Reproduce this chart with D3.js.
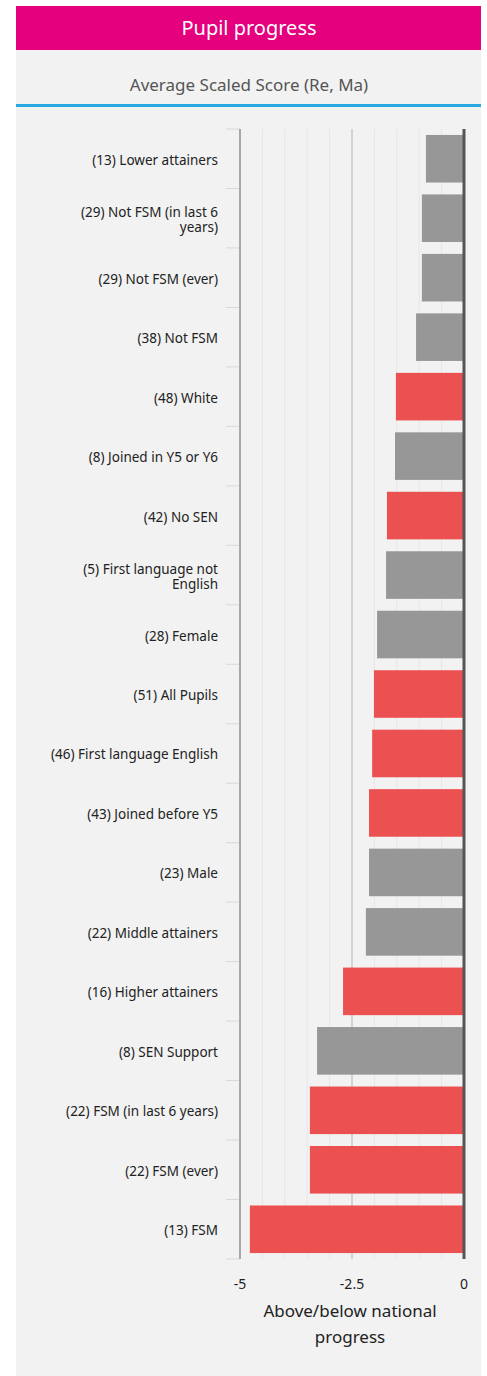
<!DOCTYPE html>
<html>
<head>
<meta charset="utf-8">
<script src="https://cdn.jsdelivr.net/npm/d3@7"></script>
<style>
  body { margin: 0; background: #fff; font-family: "Noto Sans", Lato, sans-serif; }
</style>
</head>
<body>
<script>
// categories top to bottom
var labels = [
  "(13) Lower attainers",
  "(29) Not FSM (in last 6 years)",
  "(29) Not FSM (ever)",
  "(38) Not FSM",
  "(48) White",
  "(8) Joined in Y5 or Y6",
  "(42) No SEN",
  "(5) First language not English",
  "(28) Female",
  "(51) All Pupils",
  "(46) First language English",
  "(43) Joined before Y5",
  "(23) Male",
  "(22) Middle attainers",
  "(16) Higher attainers",
  "(8) SEN Support",
  "(22) FSM (in last 6 years)",
  "(22) FSM (ever)",
  "(13) FSM"
];
var values = [-0.85, -0.94, -0.94, -1.07, -1.52, -1.54, -1.72, -1.74, -1.94, -2.01,
              -2.05, -2.12, -2.12, -2.19, -2.70, -3.28, -3.44, -3.44, -4.78];
// significant (red) or not (grey)
var flagged = [0, 0, 0, 0, 1, 0, 1, 0, 0, 1, 1, 1, 0, 0, 1, 0, 1, 1, 1];
// wrapped label lines
var wrapped = {
  "(29) Not FSM (in last 6 years)": ["(29) Not FSM (in last 6", "years)"],
  "(5) First language not English": ["(5) First language not", "English"]
};
var tickVals = [-5, -2.5, 0];

var W = 487, H = 1376;

var svg = d3.select("body").append("svg")
    .attr("width", W)
    .attr("height", H);

// panel
svg.append("rect").attr("x", 16).attr("y", 50).attr("width", 465).attr("height", H - 50).attr("fill", "#f2f2f2");
svg.append("rect").attr("x", 16).attr("y", 6).attr("width", 465).attr("height", 44).attr("fill", "#e5007d");
svg.append("text").attr("x", 249).attr("y", 35).attr("text-anchor", "middle")
    .attr("fill", "#fff").style("font-size", "20px").text("Pupil progress");
svg.append("text").attr("x", 249).attr("y", 91).attr("text-anchor", "middle")
    .attr("fill", "#555").style("font-size", "17px").text("Average Scaled Score (Re, Ma)");
svg.append("rect").attr("x", 16).attr("y", 104).attr("width", 465).attr("height", 3).attr("fill", "#29a9e1");

var plotTop = 129, plotBottom = 1259;
var x = d3.scaleLinear().domain([-5, 0]).range([240, 464]);
var y = d3.scaleBand().domain(labels).range([plotTop, plotBottom]).paddingInner(0.2).paddingOuter(0.1);

// grid every 0.5
var grid = d3.range(-4.5, 0, 0.5);
svg.selectAll(".grid").data(grid).enter().append("line")
    .attr("class", "grid")
    .attr("x1", d => x(d)).attr("x2", d => x(d))
    .attr("y1", plotTop).attr("y2", plotBottom)
    .attr("stroke", d => d === -2.5 ? "#c8c8c8" : "#e6e6e6")
    .attr("stroke-width", d => d === -2.5 ? 1.5 : 1);

// left category ticks at band edges
var edges = d3.range(labels.length + 1).map(i => plotTop + i * (plotBottom - plotTop) / labels.length);
svg.selectAll(".ytick").data(edges).enter().append("line")
    .attr("x1", 226).attr("x2", 240)
    .attr("y1", d => d).attr("y2", d => d)
    .attr("stroke", "#d8d8d8");

// bars
svg.selectAll(".bar").data(labels).enter().append("rect")
    .attr("class", "bar")
    .attr("x", (d, i) => x(values[i]))
    .attr("y", d => y(d))
    .attr("width", (d, i) => x(0) - x(values[i]))
    .attr("height", y.bandwidth())
    .attr("fill", (d, i) => flagged[i] ? "#ec5152" : "#979797");

// axis lines
svg.append("line").attr("x1", 240).attr("x2", 240).attr("y1", plotTop).attr("y2", plotBottom)
    .attr("stroke", "#a8a8a8").attr("stroke-width", 2);
svg.append("line").attr("x1", x(0)).attr("x2", x(0)).attr("y1", plotTop).attr("y2", plotBottom)
    .attr("stroke", "#555").attr("stroke-width", 3);

// category labels
var lab = svg.selectAll(".lab").data(labels).enter().append("text")
    .attr("text-anchor", "end")
    .attr("fill", "#222")
    .style("font-size", "13.5px");
lab.each(function(d) {
  var lines = wrapped[d] || [d];
  var cy = y(d) + y.bandwidth() / 2;
  var t = d3.select(this);
  lines.forEach(function(s, k) {
    t.append("tspan").attr("x", 218)
      .attr("y", cy + 6 + (k - (lines.length - 1) / 2) * 15)
      .text(s);
  });
});

// x tick labels
svg.selectAll(".xt").data(tickVals).enter().append("text")
    .attr("x", d => x(d)).attr("y", 1289)
    .attr("text-anchor", "middle").attr("fill", "#222")
    .style("font-size", "14px")
    .text(d => String(d));

svg.append("text").attr("x", 350).attr("y", 1317).attr("text-anchor", "middle")
    .attr("fill", "#222").style("font-size", "17px").text("Above/below national");
svg.append("text").attr("x", 350).attr("y", 1343).attr("text-anchor", "middle")
    .attr("fill", "#222").style("font-size", "17px").text("progress");
</script>
</body>
</html>
